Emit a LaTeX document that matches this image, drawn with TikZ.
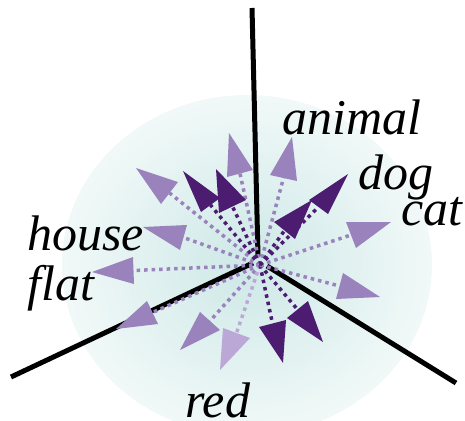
\documentclass[tikz,border=0pt]{standalone}
\usepackage{fontspec}
\setmainfont{Liberation Serif}
\begin{document}
\begin{tikzpicture}[x=1pt,y=-1pt,
  axis/.style={line width=5pt,black},
  dots/.style={line width=3.5pt,dash pattern=on 3.5pt off 4pt},
  lightc/.style={color={rgb,255:red,154;green,130;blue,189}},
  darkc/.style={color={rgb,255:red,75;green,28;blue,112}},
  palec/.style={color={rgb,255:red,187;green,168;blue,214}},
  word/.style={inner sep=0pt,anchor=base west,font=\fontsize{50}{50}\selectfont\itshape}]
\useasboundingbox (0,0) rectangle (465,420);
\begin{scope}
\clip (0,0) rectangle (465,420);
\shade[inner color={rgb,255:red,205;green,232;blue,231},outer color={rgb,255:red,241;green,249;blue,248}]
  (247,265) ellipse [x radius=185pt,y radius=170pt];
\end{scope}
% axes
\coordinate (O) at (260,265);
\coordinate (vt) at (252,8);   \coordinate (vb) at (258,256);
\coordinate (lt) at (11,377);  \coordinate (lb) at (253,263);
\coordinate (rt) at (456,383); \coordinate (rb) at (267,266);
\draw[axis] (vt) -- (vb);
\draw[axis] (lt) -- (lb);
\draw[axis] (rt) -- (rb);
% arrows: base midpoints
\foreach \st/\mx/\my/\ax/\ay/\bx/\by/\tx/\ty in {
 lightc/240/173.5/227/177/253/170/229/133,
 lightc/283.5/178/270/175/297/181/292/137,
 lightc/169.5/193/161/204/178/182/136/168,
 darkc/210.5/205/201/212/220/198/183/171,
 darkc/232.5/206.5/219/213/246/200/216/169,
 lightc/183.5/237.5/180/250/187/225/143/227,
 lightc/133.5/270.5/133/257/134/284/92/272,
 lightc/152.5/312.5/147/301/158/324/116/329,
 lightc/210/321/200/312/220/330/180/350,
 palec/236.5/333/223/328/250/338/220/370,
 darkc/272.5/323.5/259/327/286/320/283/363,
 darkc/297.5/309.5/287/318/308/301/323/342,
 lightc/339.5/286/336/299/343/273/380/297,
 lightc/351/235/346/222/356/248/391/222,
 darkc/284.5/230.5/274/222/295/239/312/200,
 darkc/318.5/207/309/200/328/214/348/174}
{
 \coordinate (m) at (\mx,\my);
 \draw[dots,\st] (O) -- (m);
 \fill[\st] (\ax,\ay) -- (\tx,\ty) -- (\bx,\by) -- cycle;
}
% labels
\node[word] (animal) at (282,134) {animal};
\node[word] (dog) at (358,189) {dog};
\node[word] (cat) at (401,225) {cat};
\node[word] (house) at (27,250) {house};
\node[word] (flat) at (27,300) {flat};
\node[word] (red) at (185,417) {red};
\end{tikzpicture}
\end{document}
